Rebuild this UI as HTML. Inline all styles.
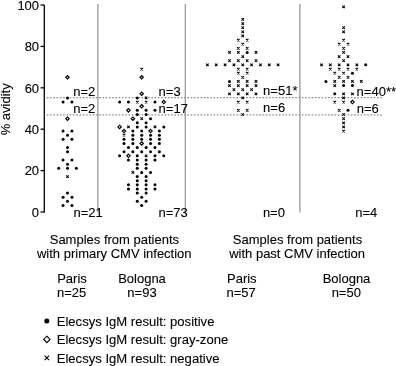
<!DOCTYPE html>
<html><head><meta charset="utf-8"><style>
html,body{margin:0;padding:0;background:#fff;}
svg{display:block;will-change:transform;}
text{font-family:"Liberation Sans",sans-serif;font-size:13px;fill:#000;stroke:#000;stroke-width:0.1px;}
.lg{font-size:13.08px;}
.ax{stroke:#000;stroke-width:1.3;}
.sep{stroke:#999;stroke-width:1.3;}
.dot{stroke:#8c8c8c;stroke-width:1.4;stroke-dasharray:1.635 1.635;}
.m{fill:none;stroke:#000;stroke-width:1.15;}
.x{fill:none;stroke:#000;stroke-width:1.05;}
</style></head><body>
<svg width="396" height="366" viewBox="0 0 396 366">
<rect width="396" height="366" fill="#fff"/>
<line x1="44.3" y1="5.00" x2="44.3" y2="212.60" class="ax"/>
<line x1="40.6" y1="5.00" x2="44.3" y2="5.00" class="ax"/><text x="39.1" y="9.70" text-anchor="end">100</text><line x1="40.6" y1="46.40" x2="44.3" y2="46.40" class="ax"/><text x="39.1" y="51.10" text-anchor="end">80</text><line x1="40.6" y1="87.80" x2="44.3" y2="87.80" class="ax"/><text x="39.1" y="92.50" text-anchor="end">60</text><line x1="40.6" y1="129.20" x2="44.3" y2="129.20" class="ax"/><text x="39.1" y="133.90" text-anchor="end">40</text><line x1="40.6" y1="170.60" x2="44.3" y2="170.60" class="ax"/><text x="39.1" y="175.30" text-anchor="end">20</text><line x1="40.6" y1="212.00" x2="44.3" y2="212.00" class="ax"/><text x="39.1" y="216.70" text-anchor="end">0</text>
<text transform="translate(9.5 109.3) rotate(-90)" text-anchor="middle">% avidity</text>
<line x1="97.9" y1="4" x2="97.9" y2="212.4" class="sep"/>
<line x1="185.3" y1="4" x2="185.3" y2="212.4" class="sep"/>
<line x1="299.9" y1="4" x2="299.9" y2="212.4" class="sep"/>
<line x1="46.74" y1="97.6" x2="382.2" y2="97.6" class="dot"/>
<line x1="46.74" y1="114.9" x2="382.2" y2="114.9" class="dot"/>
<g><path class="m" d="M67.50 75.58L69.20 77.28L67.50 78.98L65.80 77.28Z"/><circle cx="67.50" cy="97.96" r="1.5"/><circle cx="63.08" cy="102.10" r="1.5"/><circle cx="71.92" cy="102.10" r="1.5"/><path class="m" d="M67.50 116.94L69.20 118.64L67.50 120.34L65.80 118.64Z"/><circle cx="63.08" cy="131.05" r="1.5"/><circle cx="71.92" cy="131.05" r="1.5"/><circle cx="67.50" cy="135.18" r="1.5"/><circle cx="63.08" cy="139.32" r="1.5"/><circle cx="71.92" cy="139.32" r="1.5"/><circle cx="67.50" cy="147.59" r="1.5"/><circle cx="67.50" cy="151.73" r="1.5"/><circle cx="63.08" cy="160.00" r="1.5"/><circle cx="71.92" cy="160.00" r="1.5"/><circle cx="67.50" cy="164.14" r="1.5"/><circle cx="58.66" cy="168.27" r="1.5"/><circle cx="67.50" cy="168.27" r="1.5"/><circle cx="76.34" cy="168.27" r="1.5"/><path class="x" d="M66.25 175.29L68.75 177.79M68.75 175.29L66.25 177.79"/><circle cx="67.50" cy="193.09" r="1.5"/><circle cx="63.08" cy="197.22" r="1.5"/><circle cx="71.92" cy="197.22" r="1.5"/><circle cx="67.50" cy="201.36" r="1.5"/><circle cx="63.08" cy="205.50" r="1.5"/><circle cx="71.92" cy="205.50" r="1.5"/><path class="x" d="M140.45 67.76L142.95 70.26M142.95 67.76L140.45 70.26"/><path class="m" d="M141.70 75.58L143.40 77.28L141.70 78.98L140.00 77.28Z"/><path class="m" d="M141.70 92.12L143.40 93.82L141.70 95.52L140.00 93.82Z"/><circle cx="137.28" cy="97.96" r="1.5"/><path class="x" d="M144.87 96.71L147.37 99.21M147.37 96.71L144.87 99.21"/><circle cx="119.60" cy="102.10" r="1.5"/><circle cx="128.44" cy="102.10" r="1.5"/><path class="x" d="M136.03 100.85L138.53 103.35M138.53 100.85L136.03 103.35"/><path class="x" d="M144.87 100.85L147.37 103.35M147.37 100.85L144.87 103.35"/><circle cx="154.96" cy="102.10" r="1.5"/><path class="m" d="M163.80 100.40L165.50 102.10L163.80 103.80L162.10 102.10Z"/><path class="m" d="M141.70 104.53L143.40 106.23L141.70 107.93L140.00 106.23Z"/><path class="m" d="M128.44 108.67L130.14 110.37L128.44 112.07L126.74 110.37Z"/><circle cx="137.28" cy="110.37" r="1.5"/><circle cx="146.12" cy="110.37" r="1.5"/><circle cx="154.96" cy="110.37" r="1.5"/><circle cx="137.28" cy="114.50" r="1.5"/><circle cx="146.12" cy="114.50" r="1.5"/><path class="m" d="M132.86 116.94L134.56 118.64L132.86 120.34L131.16 118.64Z"/><path class="x" d="M140.45 117.39L142.95 119.89M142.95 117.39L140.45 119.89"/><circle cx="150.54" cy="118.64" r="1.5"/><circle cx="137.28" cy="122.78" r="1.5"/><circle cx="146.12" cy="122.78" r="1.5"/><path class="m" d="M119.60 125.21L121.30 126.91L119.60 128.61L117.90 126.91Z"/><path class="x" d="M127.19 125.66L129.69 128.16M129.69 125.66L127.19 128.16"/><circle cx="137.28" cy="126.91" r="1.5"/><circle cx="146.12" cy="126.91" r="1.5"/><path class="x" d="M153.71 125.66L156.21 128.16M156.21 125.66L153.71 128.16"/><circle cx="163.80" cy="126.91" r="1.5"/><path class="m" d="M124.02 129.35L125.72 131.05L124.02 132.75L122.32 131.05Z"/><circle cx="132.86" cy="131.05" r="1.5"/><circle cx="141.70" cy="131.05" r="1.5"/><path class="m" d="M150.54 129.35L152.24 131.05L150.54 132.75L148.84 131.05Z"/><circle cx="159.38" cy="131.05" r="1.5"/><path class="x" d="M122.77 133.93L125.27 136.43M125.27 133.93L122.77 136.43"/><circle cx="132.86" cy="135.18" r="1.5"/><circle cx="141.70" cy="135.18" r="1.5"/><circle cx="150.54" cy="135.18" r="1.5"/><circle cx="159.38" cy="135.18" r="1.5"/><circle cx="124.02" cy="139.32" r="1.5"/><circle cx="132.86" cy="139.32" r="1.5"/><circle cx="141.70" cy="139.32" r="1.5"/><circle cx="150.54" cy="139.32" r="1.5"/><circle cx="159.38" cy="139.32" r="1.5"/><circle cx="124.02" cy="143.46" r="1.5"/><circle cx="132.86" cy="143.46" r="1.5"/><path class="m" d="M141.70 141.76L143.40 143.46L141.70 145.16L140.00 143.46Z"/><circle cx="150.54" cy="143.46" r="1.5"/><circle cx="159.38" cy="143.46" r="1.5"/><circle cx="128.44" cy="147.59" r="1.5"/><circle cx="137.28" cy="147.59" r="1.5"/><circle cx="146.12" cy="147.59" r="1.5"/><circle cx="154.96" cy="147.59" r="1.5"/><circle cx="124.02" cy="151.73" r="1.5"/><circle cx="132.86" cy="151.73" r="1.5"/><circle cx="141.70" cy="151.73" r="1.5"/><circle cx="150.54" cy="151.73" r="1.5"/><circle cx="159.38" cy="151.73" r="1.5"/><circle cx="119.60" cy="155.86" r="1.5"/><path class="m" d="M128.44 154.16L130.14 155.86L128.44 157.56L126.74 155.86Z"/><circle cx="137.28" cy="155.86" r="1.5"/><path class="x" d="M144.87 154.61L147.37 157.11M147.37 154.61L144.87 157.11"/><circle cx="154.96" cy="155.86" r="1.5"/><circle cx="163.80" cy="155.86" r="1.5"/><circle cx="128.44" cy="160.00" r="1.5"/><circle cx="137.28" cy="160.00" r="1.5"/><circle cx="146.12" cy="160.00" r="1.5"/><circle cx="154.96" cy="160.00" r="1.5"/><circle cx="137.28" cy="164.14" r="1.5"/><circle cx="146.12" cy="164.14" r="1.5"/><circle cx="137.28" cy="168.27" r="1.5"/><circle cx="146.12" cy="168.27" r="1.5"/><path class="x" d="M131.61 171.16L134.11 173.66M134.11 171.16L131.61 173.66"/><circle cx="141.70" cy="172.41" r="1.5"/><circle cx="150.54" cy="172.41" r="1.5"/><circle cx="137.28" cy="176.54" r="1.5"/><circle cx="146.12" cy="176.54" r="1.5"/><circle cx="137.28" cy="180.68" r="1.5"/><circle cx="146.12" cy="180.68" r="1.5"/><circle cx="128.44" cy="184.82" r="1.5"/><circle cx="137.28" cy="184.82" r="1.5"/><circle cx="146.12" cy="184.82" r="1.5"/><circle cx="154.96" cy="184.82" r="1.5"/><circle cx="128.44" cy="188.95" r="1.5"/><circle cx="137.28" cy="188.95" r="1.5"/><circle cx="146.12" cy="188.95" r="1.5"/><circle cx="154.96" cy="188.95" r="1.5"/><circle cx="137.28" cy="193.09" r="1.5"/><circle cx="146.12" cy="193.09" r="1.5"/><circle cx="141.70" cy="197.22" r="1.5"/><circle cx="137.28" cy="201.36" r="1.5"/><circle cx="146.12" cy="201.36" r="1.5"/><circle cx="141.70" cy="205.50" r="1.5"/><path class="x" d="M241.50 18.13L244.00 20.63M244.00 18.13L241.50 20.63"/><path class="x" d="M241.50 22.26L244.00 24.76M244.00 22.26L241.50 24.76"/><path class="x" d="M241.50 26.40L244.00 28.90M244.00 26.40L241.50 28.90"/><path class="x" d="M241.50 30.53L244.00 33.03M244.00 30.53L241.50 33.03"/><path class="x" d="M241.50 34.67L244.00 37.17M244.00 34.67L241.50 37.17"/><path class="x" d="M237.08 38.81L239.58 41.31M239.58 38.81L237.08 41.31"/><path class="x" d="M245.92 38.81L248.42 41.31M248.42 38.81L245.92 41.31"/><path class="x" d="M241.50 42.94L244.00 45.44M244.00 42.94L241.50 45.44"/><path class="x" d="M237.08 47.08L239.58 49.58M239.58 47.08L237.08 49.58"/><path class="x" d="M245.92 47.08L248.42 49.58M248.42 47.08L245.92 49.58"/><path class="x" d="M228.24 51.21L230.74 53.71M230.74 51.21L228.24 53.71"/><path class="x" d="M237.08 51.21L239.58 53.71M239.58 51.21L237.08 53.71"/><circle cx="247.17" cy="52.46" r="1.5"/><path class="x" d="M254.76 51.21L257.26 53.71M257.26 51.21L254.76 53.71"/><path class="x" d="M241.50 55.35L244.00 57.85M244.00 55.35L241.50 57.85"/><path class="x" d="M228.24 59.49L230.74 61.99M230.74 59.49L228.24 61.99"/><path class="x" d="M237.08 59.49L239.58 61.99M239.58 59.49L237.08 61.99"/><path class="x" d="M245.92 59.49L248.42 61.99M248.42 59.49L245.92 61.99"/><path class="x" d="M254.76 59.49L257.26 61.99M257.26 59.49L254.76 61.99"/><path class="x" d="M206.14 63.62L208.64 66.12M208.64 63.62L206.14 66.12"/><path class="x" d="M214.98 63.62L217.48 66.12M217.48 63.62L214.98 66.12"/><path class="x" d="M223.82 63.62L226.32 66.12M226.32 63.62L223.82 66.12"/><path class="x" d="M232.66 63.62L235.16 66.12M235.16 63.62L232.66 66.12"/><path class="x" d="M241.50 63.62L244.00 66.12M244.00 63.62L241.50 66.12"/><path class="x" d="M250.34 63.62L252.84 66.12M252.84 63.62L250.34 66.12"/><path class="x" d="M259.18 63.62L261.68 66.12M261.68 63.62L259.18 66.12"/><path class="x" d="M268.02 63.62L270.52 66.12M270.52 63.62L268.02 66.12"/><path class="x" d="M276.86 63.62L279.36 66.12M279.36 63.62L276.86 66.12"/><path class="x" d="M237.08 67.76L239.58 70.26M239.58 67.76L237.08 70.26"/><path class="x" d="M245.92 67.76L248.42 70.26M248.42 67.76L245.92 70.26"/><path class="x" d="M237.08 71.89L239.58 74.39M239.58 71.89L237.08 74.39"/><path class="x" d="M245.92 71.89L248.42 74.39M248.42 71.89L245.92 74.39"/><path class="x" d="M241.50 76.03L244.00 78.53M244.00 76.03L241.50 78.53"/><circle cx="229.49" cy="81.42" r="1.5"/><path class="x" d="M237.08 80.17L239.58 82.67M239.58 80.17L237.08 82.67"/><path class="x" d="M245.92 80.17L248.42 82.67M248.42 80.17L245.92 82.67"/><path class="x" d="M254.76 80.17L257.26 82.67M257.26 80.17L254.76 82.67"/><path class="x" d="M228.24 84.30L230.74 86.80M230.74 84.30L228.24 86.80"/><path class="x" d="M237.08 84.30L239.58 86.80M239.58 84.30L237.08 86.80"/><path class="x" d="M245.92 84.30L248.42 86.80M248.42 84.30L245.92 86.80"/><path class="x" d="M254.76 84.30L257.26 86.80M257.26 84.30L254.76 86.80"/><path class="x" d="M232.66 88.44L235.16 90.94M235.16 88.44L232.66 90.94"/><path class="x" d="M241.50 88.44L244.00 90.94M244.00 88.44L241.50 90.94"/><path class="x" d="M250.34 88.44L252.84 90.94M252.84 88.44L250.34 90.94"/><path class="x" d="M228.24 92.57L230.74 95.07M230.74 92.57L228.24 95.07"/><path class="x" d="M237.08 92.57L239.58 95.07M239.58 92.57L237.08 95.07"/><path class="x" d="M245.92 92.57L248.42 95.07M248.42 92.57L245.92 95.07"/><path class="x" d="M254.76 92.57L257.26 95.07M257.26 92.57L254.76 95.07"/><path class="x" d="M241.50 96.71L244.00 99.21M244.00 96.71L241.50 99.21"/><path class="x" d="M237.08 100.85L239.58 103.35M239.58 100.85L237.08 103.35"/><path class="x" d="M245.92 100.85L248.42 103.35M248.42 100.85L245.92 103.35"/><path class="x" d="M237.08 109.12L239.58 111.62M239.58 109.12L237.08 111.62"/><path class="x" d="M245.92 109.12L248.42 111.62M248.42 109.12L245.92 111.62"/><path class="x" d="M241.50 113.25L244.00 115.75M244.00 113.25L241.50 115.75"/><path class="x" d="M342.35 5.72L344.85 8.22M344.85 5.72L342.35 8.22"/><path class="x" d="M342.35 26.40L344.85 28.90M344.85 26.40L342.35 28.90"/><path class="x" d="M342.35 30.53L344.85 33.03M344.85 30.53L342.35 33.03"/><path class="x" d="M342.35 38.81L344.85 41.31M344.85 38.81L342.35 41.31"/><path class="x" d="M337.93 42.94L340.43 45.44M340.43 42.94L337.93 45.44"/><path class="x" d="M346.77 42.94L349.27 45.44M349.27 42.94L346.77 45.44"/><path class="x" d="M342.35 47.08L344.85 49.58M344.85 47.08L342.35 49.58"/><path class="x" d="M342.35 51.21L344.85 53.71M344.85 51.21L342.35 53.71"/><path class="x" d="M337.93 55.35L340.43 57.85M340.43 55.35L337.93 57.85"/><path class="x" d="M346.77 55.35L349.27 57.85M349.27 55.35L346.77 57.85"/><path class="x" d="M342.35 59.49L344.85 61.99M344.85 59.49L342.35 61.99"/><path class="x" d="M320.25 63.62L322.75 66.12M322.75 63.62L320.25 66.12"/><path class="x" d="M329.09 63.62L331.59 66.12M331.59 63.62L329.09 66.12"/><path class="x" d="M337.93 63.62L340.43 66.12M340.43 63.62L337.93 66.12"/><path class="x" d="M346.77 63.62L349.27 66.12M349.27 63.62L346.77 66.12"/><path class="x" d="M355.61 63.62L358.11 66.12M358.11 63.62L355.61 66.12"/><circle cx="365.70" cy="64.87" r="1.5"/><path class="x" d="M329.09 67.76L331.59 70.26M331.59 67.76L329.09 70.26"/><path class="x" d="M337.93 67.76L340.43 70.26M340.43 67.76L337.93 70.26"/><path class="x" d="M346.77 67.76L349.27 70.26M349.27 67.76L346.77 70.26"/><path class="x" d="M355.61 67.76L358.11 70.26M358.11 67.76L355.61 70.26"/><path class="x" d="M333.51 71.89L336.01 74.39M336.01 71.89L333.51 74.39"/><path class="x" d="M342.35 71.89L344.85 74.39M344.85 71.89L342.35 74.39"/><circle cx="352.44" cy="73.14" r="1.5"/><path class="x" d="M337.93 76.03L340.43 78.53M340.43 76.03L337.93 78.53"/><path class="x" d="M346.77 76.03L349.27 78.53M349.27 76.03L346.77 78.53"/><circle cx="325.92" cy="81.42" r="1.5"/><path class="x" d="M333.51 80.17L336.01 82.67M336.01 80.17L333.51 82.67"/><path class="x" d="M342.35 80.17L344.85 82.67M344.85 80.17L342.35 82.67"/><path class="x" d="M351.19 80.17L353.69 82.67M353.69 80.17L351.19 82.67"/><path class="x" d="M360.03 80.17L362.53 82.67M362.53 80.17L360.03 82.67"/><path class="x" d="M333.51 84.30L336.01 86.80M336.01 84.30L333.51 86.80"/><circle cx="343.60" cy="85.55" r="1.5"/><circle cx="352.44" cy="85.55" r="1.5"/><circle cx="334.76" cy="93.82" r="1.5"/><path class="x" d="M342.35 92.57L344.85 95.07M344.85 92.57L342.35 95.07"/><path class="x" d="M351.19 92.57L353.69 95.07M353.69 92.57L351.19 95.07"/><path class="x" d="M342.35 96.71L344.85 99.21M344.85 96.71L342.35 99.21"/><path class="x" d="M333.51 100.85L336.01 103.35M336.01 100.85L333.51 103.35"/><path class="x" d="M342.35 100.85L344.85 103.35M344.85 100.85L342.35 103.35"/><path class="m" d="M352.44 100.40L354.14 102.10L352.44 103.80L350.74 102.10Z"/><path class="x" d="M337.93 109.12L340.43 111.62M340.43 109.12L337.93 111.62"/><circle cx="348.02" cy="110.37" r="1.5"/><path class="x" d="M342.35 113.25L344.85 115.75M344.85 113.25L342.35 115.75"/><path class="x" d="M342.35 117.39L344.85 119.89M344.85 117.39L342.35 119.89"/><path class="x" d="M342.35 121.53L344.85 124.03M344.85 121.53L342.35 124.03"/><path class="x" d="M342.35 125.66L344.85 128.16M344.85 125.66L342.35 128.16"/><path class="x" d="M342.35 129.80L344.85 132.30M344.85 129.80L342.35 132.30"/></g>
<text x="73.3" y="95.5">n=2</text>
<text x="73.3" y="113">n=2</text>
<text x="73.5" y="216.7">n=21</text>
<text x="158.6" y="95.5">n=3</text>
<text x="158.6" y="112.7">n=17</text>
<text x="158.5" y="216.7">n=73</text>
<text x="263.1" y="95.3">n=51*</text>
<text x="263.1" y="112.4">n=6</text>
<text x="262.9" y="217">n=0</text>
<text x="356.6" y="95.5">n=40**</text>
<text x="356.8" y="112.5">n=6</text>
<text x="355.2" y="216.9">n=4</text>
<g text-anchor="middle">
<text x="114.4" y="243.9">Samples from patients</text>
<text x="114.3" y="257.8">with primary CMV infection</text>
<text x="72" y="282.6">Paris</text>
<text x="71.7" y="296.8">n=25</text>
<text x="142" y="282.6">Bologna</text>
<text x="142" y="296.8">n=93</text>
<text x="297.5" y="243.6">Samples from patients</text>
<text x="297.1" y="257.8">with past CMV infection</text>
<text x="241.8" y="282.8">Paris</text>
<text x="241.2" y="296.8">n=57</text>
<text x="346.5" y="282.6">Bologna</text>
<text x="346.3" y="296.8">n=50</text>
</g>
<circle cx="46.8" cy="321" r="2.5"/>
<path class="m" style="stroke-width:1.1" d="M46.85 336.2L50.05 339.4L46.85 342.6L43.65 339.4Z"/>
<path class="x" style="stroke-width:1.1" d="M44.6 355.7L49.1 360.2M49.1 355.7L44.6 360.2"/>
<text class="lg" x="56.7" y="325.6">Elecsys IgM result: positive</text>
<text class="lg" x="56.7" y="344">Elecsys IgM result: gray-zone</text>
<text class="lg" x="56.7" y="362.6">Elecsys IgM result: negative</text>
</svg>
</body></html>
